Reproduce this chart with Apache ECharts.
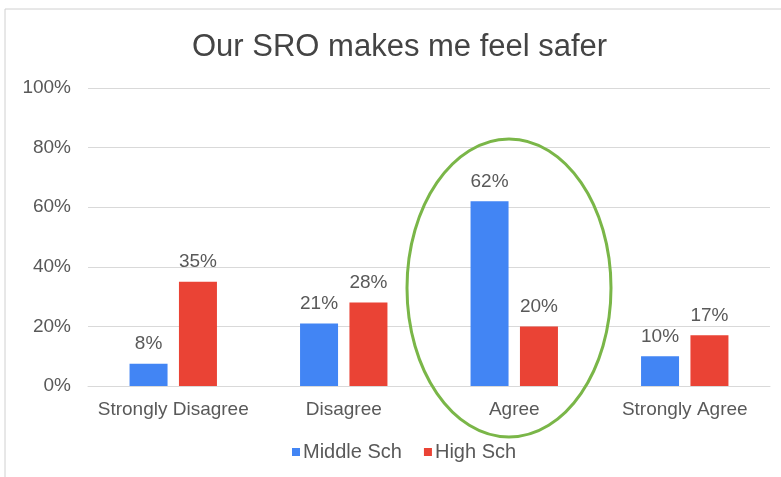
<!DOCTYPE html>
<html>
<head>
<meta charset="utf-8">
<script src="https://cdn.jsdelivr.net/npm/echarts@6/dist/echarts.min.js"></script>
<style>
  body { margin: 0; padding: 0; background: #fff; }
  #chart { width: 781px; height: 477px; }
</style>
</head>
<body>
<div id="chart"></div>
<script>
// survey answers, percent of students
var categories = ["Strongly Disagree", "Disagree", "Agree", "Strongly Agree"];
var middleSch = [7.5, 21, 62, 10];
var highSch = [35, 28, 20, 17];
var yTicks = [0, 20, 40, 60, 80, 100];

var textColor = "#595959";
var fontName = "Liberation Sans, Arial, sans-serif";

var chart = echarts.init(document.getElementById("chart"));

function barLabel() {
  return {
    show: true, position: "top", distance: 10,
    formatter: function (p) { return Math.round(p.value) + "%"; },
    fontFamily: fontName, fontSize: 19, color: textColor
  };
}

var option = {
  backgroundColor: "#fff",
  animation: false,
  title: {
    text: "Our SRO makes me feel safer",
    left: 187,
    top: 27,
    textStyle: { fontFamily: fontName, fontSize: 31, fontWeight: "normal", color: "#444" }
  },
  legend: {
    bottom: 10,
    left: 287,
    itemWidth: 8,
    itemHeight: 8,
    itemGap: 22,
    icon: "rect",
    textStyle: { fontFamily: fontName, fontSize: 20, color: textColor, padding: [0, 0, 0, -2] },
    data: ["Middle Sch", "High Sch"]
  },
  grid: { left: 88, right: 11, top: 88, bottom: 91 },
  xAxis: {
    type: "category",
    data: categories,
    axisTick: { show: false },
    axisLine: { lineStyle: { color: "#d9d9d9" } },
    axisLabel: { interval: 0, fontFamily: fontName, fontSize: 19, color: textColor, margin: 14 }
  },
  yAxis: {
    type: "value",
    min: yTicks[0],
    max: yTicks[yTicks.length - 1],
    interval: 20,
    axisLine: { show: false },
    axisTick: { show: false },
    splitLine: { lineStyle: { color: "#d9d9d9" } },
    axisLabel: { fontFamily: fontName, fontSize: 19, color: textColor, margin: 17, formatter: "{value}%" }
  },
  series: [
    {
      name: "Middle Sch",
      type: "bar",
      data: middleSch,
      barWidth: 38,
      barGap: "30%",
      itemStyle: { color: "#4285f4" },
      label: barLabel()
    },
    {
      name: "High Sch",
      type: "bar",
      data: highSch,
      barWidth: 38,
      barGap: "30%",
      itemStyle: { color: "#ea4335" },
      label: barLabel()
    }
  ],
  graphic: [
    { type: "line", shape: { x1: 5, y1: 9, x2: 781, y2: 9 }, style: { stroke: "#d0d0d0", lineWidth: 1 } },
    { type: "line", shape: { x1: 5, y1: 9, x2: 5, y2: 477 }, style: { stroke: "#d0d0d0", lineWidth: 1 } },
    { type: "ellipse", shape: { cx: 509, cy: 288, rx: 102, ry: 149 },
      style: { fill: null, stroke: "#7ab648", lineWidth: 3 }, z: 100 }
  ]
};

chart.setOption(option);
</script>
</body>
</html>
